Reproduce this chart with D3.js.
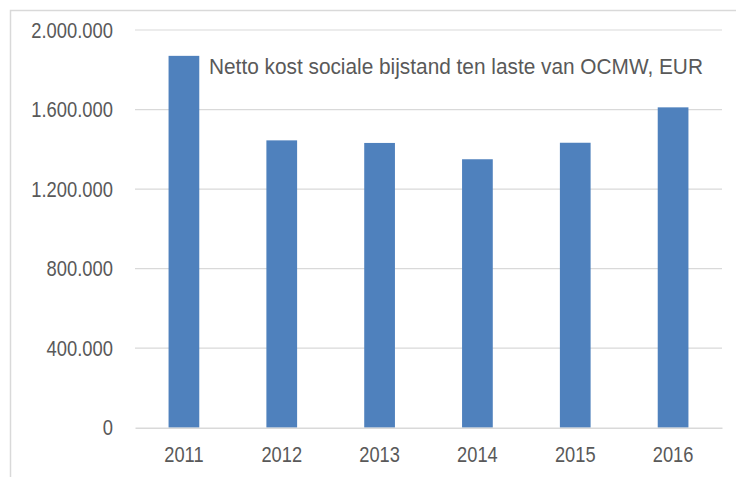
<!DOCTYPE html>
<html>
<head>
<meta charset="utf-8">
<script src="https://cdn.jsdelivr.net/npm/d3@7"></script>
<style>
  body { margin: 0; background: #fff; }
  svg text { font-family: "Liberation Sans", Arial, sans-serif; fill: #595959; }
</style>
</head>
<body>
<script>
// data
var years = ["2011", "2012", "2013", "2014", "2015", "2016"];
var kost = [1870000, 1445000, 1432000, 1350000, 1433000, 1611000];
var yTicks = [0, 400000, 800000, 1200000, 1600000, 2000000];
var title = "Netto kost sociale bijstand ten laste van OCMW, EUR";

var width = 736, height = 477;
var mLeft = 135, mRight = 722, mTop = 30, mBottom = 427.7;

var svg = d3.select("body").append("svg")
    .attr("width", width)
    .attr("height", height);

// chart frame (only top and left edges are visible)
svg.append("rect")
    .attr("x", 10.5).attr("y", 10.5)
    .attr("width", 800).attr("height", 600)
    .attr("fill", "none")
    .attr("stroke", "#d9d9d9")
    .attr("stroke-width", 1.5);

var x = d3.scaleBand()
    .domain(years)
    .range([mLeft, mRight])
    .paddingInner(0.686)
    .paddingOuter(0.343);

var y = d3.scaleLinear()
    .domain([0, 2000000])
    .range([mBottom, mTop]);

var fmt = function(d) { return d3.format(",")(d).replace(/,/g, "."); };

// squeeze text to look like the narrow font in the original
function narrow(sel, k) {
  sel.each(function() {
    var w = this.getComputedTextLength();
    d3.select(this).attr("textLength", w * k).attr("lengthAdjust", "spacingAndGlyphs");
  });
}

// gridlines
svg.append("g")
    .selectAll("line")
    .data(yTicks.slice(1))
    .enter().append("line")
    .attr("x1", mLeft).attr("x2", mRight)
    .attr("y1", function(d) { return y(d); })
    .attr("y2", function(d) { return y(d); })
    .attr("stroke", "#d9d9d9")
    .attr("stroke-width", 1.2);

// y axis labels
var yAxis = d3.axisLeft(y).tickValues(yTicks).tickFormat(fmt).tickSize(0).tickPadding(22);
var gy = svg.append("g")
    .attr("transform", "translate(" + mLeft + ",0)")
    .call(yAxis);
gy.select(".domain").remove();
gy.selectAll("text").attr("font-family", null).style("font-size", "22px").attr("fill", "#595959")
    .call(narrow, 0.835);

// bars
svg.append("g")
    .selectAll("rect")
    .data(kost)
    .enter().append("rect")
    .attr("x", function(d, i) { return x(years[i]); })
    .attr("y", function(d) { return y(d); })
    .attr("width", x.bandwidth())
    .attr("height", function(d) { return y(0) - y(d); })
    .attr("fill", "#4f81bd");

// x axis
var xAxis = d3.axisBottom(x).tickSize(0).tickPadding(19);
var gx = svg.append("g")
    .attr("transform", "translate(0," + mBottom + ")")
    .call(xAxis);
gx.select(".domain")
    .attr("stroke", "#d9d9d9")
    .attr("stroke-width", 1.5);
gx.selectAll("text").style("font-size", "22px").attr("fill", "#595959")
    .call(narrow, 0.83);

// series label
svg.append("text")
    .attr("x", 209)
    .attr("y", 74.3)
    .style("font-size", "22px")
    .text(title)
    .call(narrow, 0.946);
</script>
</body>
</html>
